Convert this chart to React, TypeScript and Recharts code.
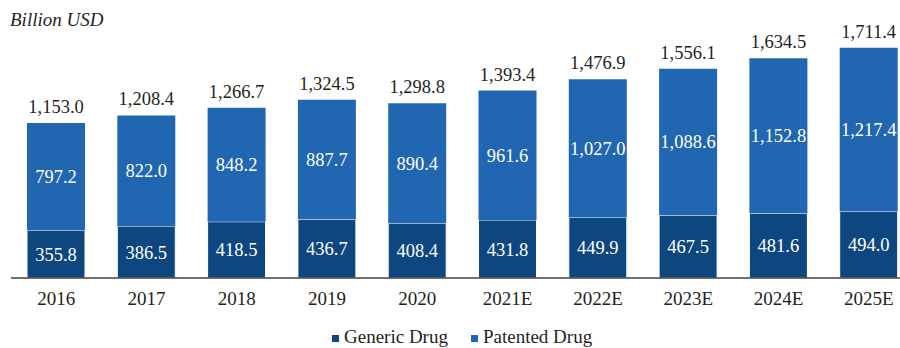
import { Bar, BarChart, LabelList, Legend, XAxis, YAxis } from 'recharts';

const years = ['2016', '2017', '2018', '2019', '2020', '2021E', '2022E', '2023E', '2024E', '2025E'];
const generic = [355.8, 386.5, 418.5, 436.7, 408.4, 431.8, 449.9, 467.5, 481.6, 494.0];
const patented = [797.2, 822.0, 848.2, 887.7, 890.4, 961.6, 1027.0, 1088.6, 1152.8, 1217.4];
const totals = [1153.0, 1208.4, 1266.7, 1324.5, 1298.8, 1393.4, 1476.9, 1556.1, 1634.5, 1711.4];

const GENERIC = '#0e4680';
const PATENTED = '#2166b0';
const INK = '#231f20';
const FONT = '"Liberation Serif", "Times New Roman", serif';

const rows = years.map((year, i) => ({
  year,
  generic: generic[i],
  patented: patented[i],
  total: totals[i],
}));

const fmt = (v: unknown) =>
  Number(v).toLocaleString('en-US', { minimumFractionDigits: 1, maximumFractionDigits: 1 });

function LegendRow() {
  const item = (color: string, label: string, gap: number) => (
    <span style={{ display: 'inline-flex', alignItems: 'center', marginRight: gap }}>
      <span
        style={{ width: 7, height: 7, background: color, marginRight: 5, display: 'inline-block', position: 'relative', top: 2 }}
      />
      <span>{label}</span>
    </span>
  );
  return (
    <div style={{ fontFamily: FONT, fontSize: 19, color: INK, lineHeight: '22px', whiteSpace: 'nowrap' }}>
      {item(GENERIC, 'Generic Drug', 23)}
      {item(PATENTED, 'Patented Drug', 0)}
    </div>
  );
}

export default function App() {
  return (
    <div style={{ position: 'absolute', left: 0, top: 0, width: 900, height: 348, overflow: 'hidden', background: '#fff' }}>
      <div
        style={{
          position: 'absolute', left: 10, top: 10, fontFamily: FONT, fontStyle: 'italic',
          fontSize: 19, lineHeight: '19px', color: INK,
        }}
      >
        Billion USD
      </div>
      <BarChart
        width={914}
        height={348}
        data={rows}
        margin={{ top: 9, right: 0, bottom: 0, left: 11 }}
        barSize={58}
      >
        <XAxis
          dataKey="year"
          axisLine={{ stroke: '#404040', strokeWidth: 1.5 }}
          tickLine={false}
          height={48}
          tick={{ fontFamily: FONT, fontSize: 19, fill: INK }}
          tickMargin={8}
        />
        <YAxis hide domain={[0, 2000]} />
        <Legend
          verticalAlign="bottom"
          content={() => <LegendRow />}
          wrapperStyle={{ left: 332, width: 400, height: 22, bottom: 3 }}
        />
        <Bar dataKey="generic" stackId="a" fill={GENERIC} stroke="#ffffff" strokeWidth={1} isAnimationActive={false}>
          <LabelList dataKey="generic" position="center" formatter={fmt} fill="#ffffff" fontFamily={FONT} fontSize={18.5} />
        </Bar>
        <Bar dataKey="patented" stackId="a" fill={PATENTED} isAnimationActive={false}>
          <LabelList dataKey="patented" position="center" formatter={fmt} fill="#ffffff" fontFamily={FONT} fontSize={18.5} />
          <LabelList dataKey="total" position="top" offset={10} formatter={fmt} fill={INK} fontFamily={FONT} fontSize={18.5} />
        </Bar>
      </BarChart>
    </div>
  );
}
